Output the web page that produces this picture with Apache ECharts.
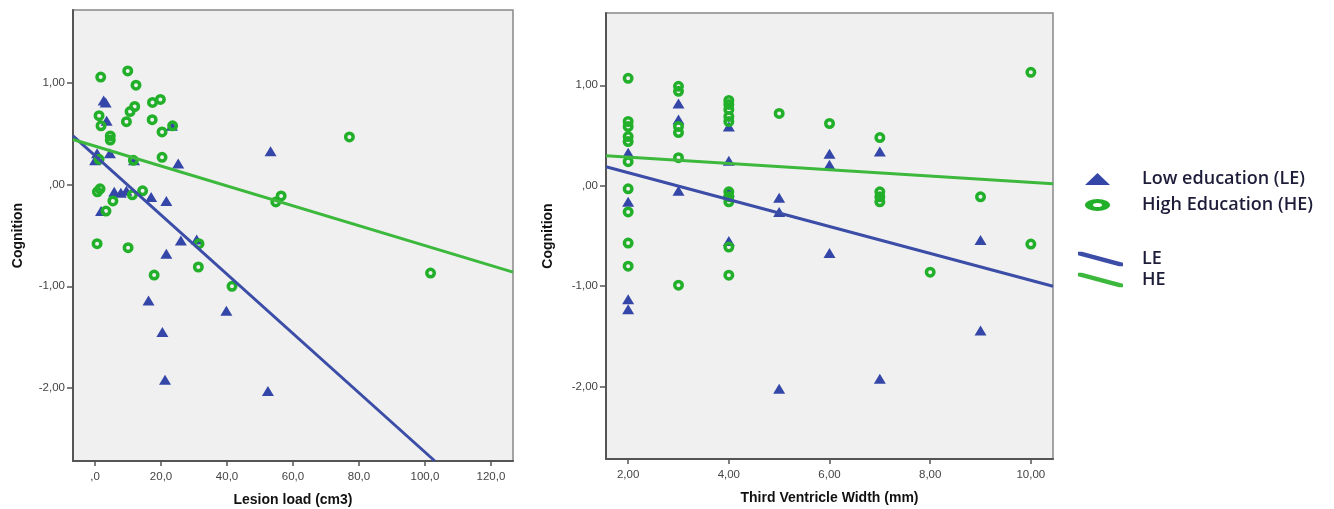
<!DOCTYPE html>
<html>
<head>
<meta charset="utf-8">
<script src="https://cdn.jsdelivr.net/npm/echarts@6/dist/echarts.min.js"></script>
<style>
  html, body { margin: 0; padding: 0; background: #fff; }
  #chart { width: 1334px; height: 509px; }
</style>
</head>
<body>
<div id="chart"></div>
<script>
// lesion load (cm3) vs cognition
var lesionLE = [
    [2.6, 0.83], [3.2, 0.81], [3.5, 0.63], [0.6, 0.31], [0, 0.24], [4.5, 0.31],
    [11.8, 0.24], [25.2, 0.21], [53.2, 0.33], [23.3, 0.58], [5.8, -0.07], [7.8, -0.08],
    [9.5, -0.06], [17, -0.12], [21.6, -0.16], [1.8, -0.26], [26, -0.55], [30.8, -0.54],
    [21.6, -0.68], [16.2, -1.14], [39.8, -1.24], [20.4, -1.45], [21.2, -1.92], [52.4, -2.03]
];
var lesionHE = [
    [1.7, 1.06], [9.9, 1.12], [12.4, 0.98], [1.2, 0.68], [1.8, 0.58], [4.6, 0.48],
    [4.6, 0.44], [9.5, 0.62], [10.6, 0.72], [12, 0.77], [17.4, 0.81], [19.8, 0.84],
    [17.3, 0.64], [20.3, 0.52], [23.5, 0.58], [20.3, 0.27], [1.2, 0.25], [11.6, 0.24],
    [77.1, 0.47], [0.7, -0.07], [1.5, -0.04], [11.3, -0.10], [14.4, -0.06], [5.4, -0.16],
    [3.3, -0.26], [56.4, -0.11], [54.8, -0.17], [0.6, -0.58], [10, -0.62], [31.5, -0.58],
    [31.3, -0.81], [17.9, -0.89], [41.5, -1.0], [101.7, -0.87]
];
// fit lines, read at the plot edges
var lesionFitLE = [[-6.7, 0.48], [103, -2.72]];
var lesionFitHE = [[-6.7, 0.445], [126.7, -0.86]];

// third ventricle width (mm) vs cognition
var ventricleLE = [
    [2, 0.33], [2, -0.16], [2, -1.13], [2, -1.23], [3, 0.82], [3, 0.66], [3, -0.05],
    [4, 0.59], [4, 0.25], [4, -0.06], [4, -0.55], [5, -0.12], [5, -0.26], [5, -2.02],
    [6, 0.32], [6, 0.21], [6, -0.67], [7, 0.34], [7, -1.92], [9, -0.54], [9, -1.44]
];
var ventricleHE = [
    [2, 1.07], [2, 0.64], [2, 0.59], [2, 0.49], [2, 0.44], [2, 0.24], [2, -0.03],
    [2, -0.26], [2, -0.57], [2, -0.80], [3, 0.99], [3, 0.94], [3, 0.59], [3, 0.53],
    [3, 0.28], [3, -0.99], [4, 0.85], [4, 0.81], [4, 0.76], [4, 0.69], [4, 0.64],
    [4, -0.06], [4, -0.11], [4, -0.16], [4, -0.61], [4, -0.89], [5, 0.72], [6, 0.62],
    [7, 0.48], [7, -0.06], [7, -0.11], [7, -0.16], [8, -0.86], [9, -0.11], [10, 1.13],
    [10, -0.58]
];
var ventricleFitLE = [[1.56, 0.19], [10.44, -1.0]];
var ventricleFitHE = [[1.56, 0.30], [10.44, 0.02]];

// tick values
var lesionTicks = [0, 20, 40, 60, 80, 100, 120];
var ventricleTicks = [2, 4, 6, 8, 10];
var cognitionTicks = [-2, -1, 0, 1];

var BLUE = '#3446a8';
var GREEN = '#22b02a';
var LINE_BLUE = '#3c4da7';
var LINE_GREEN = '#3cb83c';

function fmt(digits) {
    return function (v) {
        if (Math.abs(v) < 1e-9) return ',' + '0'.repeat(digits);
        return v.toFixed(digits).replace('.', ',');
    };
}

function xAxisOf(idx, name, min, max, ticks, digits) {
    return {
        type: 'value',
        gridIndex: idx,
        name: name,
        nameLocation: 'middle',
        nameGap: 32,
        nameTextStyle: { fontFamily: 'Liberation Sans', fontWeight: 'bold', fontSize: 14, color: '#111' },
        min: min,
        max: max,
        splitLine: { show: false },
        axisLine: { onZero: false, lineStyle: { color: '#555', width: 2 } },
        axisTick: { customValues: ticks, length: 5, lineStyle: { color: '#555', width: 1.5 } },
        axisLabel: {
            customValues: ticks, margin: 10, formatter: fmt(digits),
            fontFamily: 'Liberation Sans', fontSize: 11.5, color: '#444'
        }
    };
}

function yAxisOf(idx, gap) {
    return {
        type: 'value',
        gridIndex: idx,
        name: 'Cognition',
        nameLocation: 'middle',
        nameGap: gap,
        nameTextStyle: { fontFamily: 'Liberation Sans', fontWeight: 'bold', fontSize: 14, color: '#111' },
        min: -2.72,
        max: 1.72,
        splitLine: { show: false },
        axisLine: { onZero: false, lineStyle: { color: '#555', width: 2 } },
        axisTick: { customValues: cognitionTicks, length: 6, lineStyle: { color: '#555', width: 1.5 } },
        axisLabel: {
            customValues: cognitionTicks, margin: 8, formatter: fmt(2),
            fontFamily: 'Liberation Sans', fontSize: 11.5, color: '#444'
        }
    };
}

function scatterLE(idx, data) {
    return {
        name: 'Low education (LE)', type: 'scatter',
        xAxisIndex: idx, yAxisIndex: idx,
        symbol: 'triangle', symbolSize: [12, 10],
        itemStyle: { color: BLUE, borderWidth: 0, opacity: 1 },
        data: data, z: 3
    };
}

function scatterHE(idx, data) {
    return {
        name: 'High Education (HE)', type: 'scatter',
        xAxisIndex: idx, yAxisIndex: idx,
        symbol: 'circle', symbolSize: 7.5,
        itemStyle: { color: 'rgba(0,0,0,0)', borderColor: GREEN, borderWidth: 3.5, opacity: 1 },
        data: data, z: 4
    };
}

function fitLine(idx, name, color, data) {
    return {
        name: name, type: 'line',
        xAxisIndex: idx, yAxisIndex: idx,
        showSymbol: false, symbol: 'none',
        lineStyle: { color: color, width: 3 },
        itemStyle: { color: color },
        data: data, z: 5, silent: true
    };
}

var ringIcon = 'path://M0,6 A12.5,6 0 1,1 25,6 A12.5,6 0 1,1 0,6 Z M8,6 A4.5,2 0 1,0 17,6 A4.5,2 0 1,0 8,6 Z';
var bandIcon = 'path://M0,0 L4,0 L45,11 L45,14.5 L41,14.5 L0,3.5 Z';

var legendText = {
    fontFamily: 'Open Sans', fontWeight: 600, fontSize: 18, color: '#1d1d3a', lineHeight: 18
};

var chart = echarts.init(document.getElementById('chart'));
chart.setOption({
    backgroundColor: '#ffffff',
    animation: false,
    grid: [
        { left: 73, top: 10, width: 440, height: 451, show: true, backgroundColor: '#f0f0f0',
          borderColor: '#888', borderWidth: 1.5, outerBoundsMode: 'none' },
        { left: 606, top: 13, width: 447, height: 446, show: true, backgroundColor: '#f0f0f0',
          borderColor: '#888', borderWidth: 1.5, outerBoundsMode: 'none' }
    ],
    xAxis: [
        xAxisOf(0, 'Lesion load (cm3)', -6.7, 126.7, lesionTicks, 1),
        xAxisOf(1, 'Third Ventricle Width (mm)', 1.56, 10.44, ventricleTicks, 2)
    ],
    yAxis: [yAxisOf(0, 48), yAxisOf(1, 51)],
    legend: [
        {
            orient: 'vertical', left: 1080, top: 165,
            itemWidth: 25, itemHeight: 12, itemGap: 8,
            symbolKeepAspect: false,
            textStyle: Object.assign({ padding: [0, 0, 0, 27] }, legendText),
            data: [
                { name: 'Low education (LE)', icon: 'triangle', itemStyle: { color: BLUE, borderWidth: 0 } },
                { name: 'High Education (HE)', icon: ringIcon, itemStyle: { color: GREEN, borderWidth: 0 } }
            ]
        },
        {
            orient: 'vertical', left: 1073, top: 245,
            itemWidth: 45, itemHeight: 14.5, itemGap: 3,
            symbolKeepAspect: false,
            textStyle: Object.assign({ padding: [0, 0, 0, 14] }, legendText),
            data: [
                { name: 'LE', icon: bandIcon, itemStyle: { color: LINE_BLUE, borderWidth: 0 } },
                { name: 'HE', icon: bandIcon, itemStyle: { color: LINE_GREEN, borderWidth: 0 } }
            ]
        }
    ],
    series: [
        scatterLE(0, lesionLE),
        scatterHE(0, lesionHE),
        fitLine(0, 'LE', LINE_BLUE, lesionFitLE),
        fitLine(0, 'HE', LINE_GREEN, lesionFitHE),
        scatterLE(1, ventricleLE),
        scatterHE(1, ventricleHE),
        fitLine(1, 'LE', LINE_BLUE, ventricleFitLE),
        fitLine(1, 'HE', LINE_GREEN, ventricleFitHE)
    ]
});
</script>
</body>
</html>
